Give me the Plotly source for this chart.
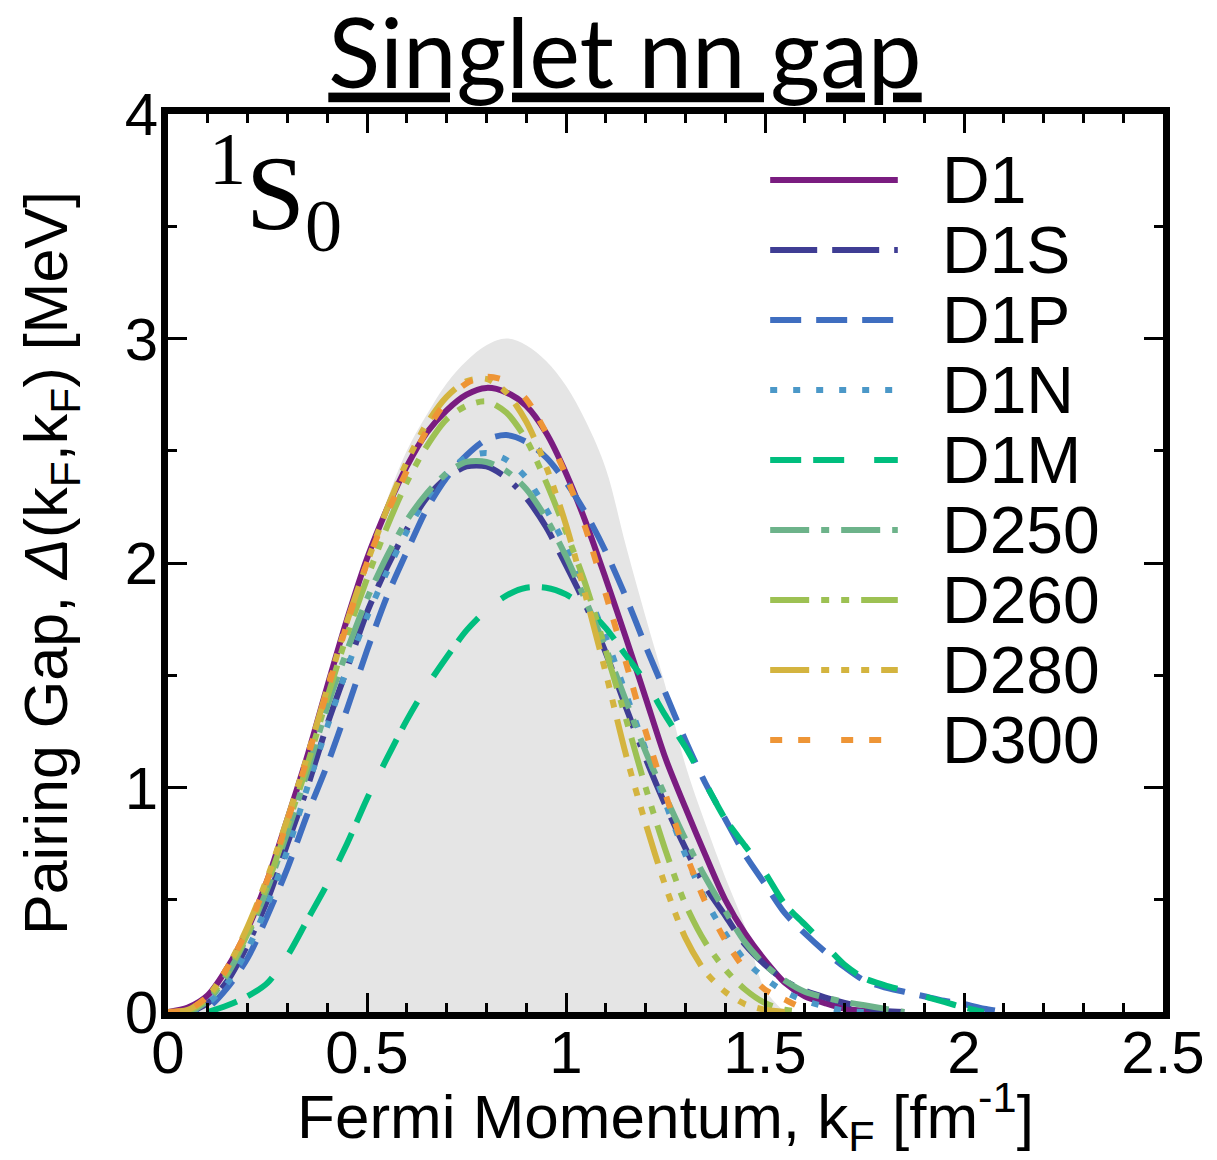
import plotly.graph_objects as go

# ---------------- data ----------------
kF = [0.00, 0.05, 0.10, 0.15, 0.20, 0.25, 0.30, 0.35, 0.40, 0.45,
      0.50, 0.55, 0.60, 0.65, 0.70, 0.75, 0.80, 0.85, 0.90, 0.95,
      1.00, 1.05, 1.10, 1.15, 1.20, 1.25, 1.30, 1.35, 1.40, 1.45,
      1.50, 1.55, 1.60, 1.65, 1.70, 1.75, 1.80, 1.85, 1.90, 1.95,
      2.00, 2.05, 2.10]

band_upper = [0, 0.02, 0.08, 0.20, 0.37, 0.58, 0.84, 1.12, 1.42, 1.73,
              2.02, 2.28, 2.50, 2.66, 2.80, 2.90, 2.97, 3.00, 2.97, 2.90,
              2.79, 2.63, 2.42, 2.08, 1.76, 1.45, 1.10, 0.84, 0.60, 0.38,
              0.10, 0, None, None, None, None, None, None, None, None,
              None, None, None]

D1 = [0, 0.02, 0.075, 0.20, 0.37, 0.59, 0.86, 1.14, 1.45, 1.75,
      2.02, 2.24, 2.43, 2.58, 2.68, 2.75, 2.78, 2.76, 2.70, 2.58,
      2.40, 2.18, 1.93, 1.67, 1.40, 1.13, 0.91, 0.70, 0.50, 0.35,
      0.23, 0.13, 0.07, 0.04, 0.015, 0.005, 0, None, None, None,
      None, None, None]

D1S = [0, 0, 0.04, 0.14, 0.30, 0.50, 0.75, 1.00, 1.28, 1.53,
       1.78, 1.98, 2.15, 2.29, 2.38, 2.43, 2.43, 2.38, 2.29, 2.16,
       1.99, 1.81, 1.60, 1.36, 1.13, 0.92, 0.73, 0.56, 0.43, 0.30,
       0.21, 0.14, 0.095, 0.065, 0.04, 0.02, 0.005, 0, None, None,
       None, None, None]

D1P = [0, 0, 0.02, 0.11, 0.24, 0.43, 0.64, 0.88, 1.10, 1.35,
       1.61, 1.85, 2.05, 2.24, 2.38, 2.48, 2.55, 2.57, 2.54, 2.47,
       2.36, 2.22, 2.05, 1.85, 1.63, 1.42, 1.21, 1.02, 0.86, 0.70,
       0.57, 0.44, 0.35, 0.27, 0.20, 0.14, 0.11, 0.09, 0.07, 0.05,
       0.035, 0.015, 0]

D1N = [0, 0, 0.04, 0.13, 0.28, 0.48, 0.72, 1.00, 1.27, 1.53,
       1.76, 1.96, 2.14, 2.29, 2.40, 2.47, 2.49, 2.46, 2.38, 2.24,
       2.07, 1.88, 1.67, 1.42, 1.17, 0.93, 0.70, 0.50, 0.35, 0.23,
       0.15, 0.09, 0.05, 0.025, 0.005, 0, None, None, None, None,
       None, None, None]

D1M = [None, None, 0, 0.03, 0.07, 0.13, 0.25, 0.41, 0.57, 0.75,
       0.95, 1.13, 1.30, 1.45, 1.58, 1.70, 1.79, 1.855, 1.89, 1.89,
       1.86, 1.80, 1.71, 1.59, 1.47, 1.32, 1.18, 1.02, 0.86, 0.74,
       0.62, 0.48, 0.39, 0.30, 0.21, 0.15, 0.12, 0.095, 0.07, 0.045,
       0.02, 0, None]

D250 = [0, 0, 0.05, 0.17, 0.34, 0.55, 0.80, 1.07, 1.36, 1.61,
        1.84, 2.03, 2.19, 2.31, 2.40, 2.45, 2.45, 2.41, 2.33, 2.20,
        2.03, 1.83, 1.62, 1.39, 1.16, 0.96, 0.77, 0.60, 0.45, 0.31,
        0.21, 0.14, 0.09, 0.065, 0.045, 0.03, 0.015, 0, None, None,
        None, None, None]

D260 = [0, 0.005, 0.06, 0.18, 0.35, 0.57, 0.83, 1.10, 1.40, 1.68,
        1.93, 2.16, 2.36, 2.52, 2.64, 2.70, 2.72, 2.67, 2.55, 2.36,
        2.14, 1.90, 1.61, 1.31, 1.00, 0.72, 0.48, 0.31, 0.19, 0.10,
        0.04, 0.01, 0, None, None, None, None, None, None, None,
        None, None, None]

D280 = [0, 0.01, 0.07, 0.20, 0.38, 0.60, 0.86, 1.14, 1.44, 1.74,
        2.00, 2.24, 2.45, 2.62, 2.74, 2.81, 2.82, 2.76, 2.63, 2.43,
        2.17, 1.85, 1.51, 1.15, 0.84, 0.56, 0.33, 0.18, 0.09, 0.035,
        0.01, 0, None, None, None, None, None, None, None, None,
        None, None, None]

D300 = [0, 0.01, 0.07, 0.20, 0.37, 0.59, 0.85, 1.13, 1.43, 1.73,
        2.00, 2.22, 2.41, 2.59, 2.72, 2.80, 2.83, 2.81, 2.73, 2.58,
        2.39, 2.15, 1.86, 1.56, 1.25, 0.97, 0.71, 0.49, 0.32, 0.19,
        0.10, 0.055, 0.015, 0, None, None, None, None, None, None,
        None, None, None]

series_names = ["D1", "D1S", "D1P", "D1N", "D1M", "D250", "D260", "D280", "D300"]
series_values = [D1, D1S, D1P, D1N, D1M, D250, D260, D280, D300]

x_ticks = [0, 0.5, 1, 1.5, 2, 2.5]
x_ticklabels = ["0", "0.5", "1", "1.5", "2", "2.5"]
y_ticks = [0, 1, 2, 3, 4]
y_ticklabels = ["0", "1", "2", "3", "4"]

# ---------------- styles ----------------
colors = ["#7a1c80", "#3f3d94", "#3f6ec0", "#4b98c8", "#00be7e",
          "#6db38a", "#9dc153", "#d4b43f", "#ee9536"]
dashes = ["solid",
          "47px,15px,47px,15px,5px,15px",
          "31px,15px",
          "7px,16px",
          "31px,12px,31px,30px",
          "39px,12px,8px,12px",
          "39px,12px,8px,12px,8px,12px",
          "39px,12px,8px,12px,8px,12px,8px,12px",
          "12px,16px,12px,31px"]
LW = 6

W, H = 1217, 1160
L, R, T, B = 168, 51, 114, 148
plot_w, plot_h = W - L - R, H - T - B

fig = go.Figure()

fig.add_trace(go.Scatter(x=kF, y=band_upper, mode="lines", fill="tozeroy",
                         fillcolor="#e5e5e5", line=dict(width=0, color="#e5e5e5",
                                                         shape="spline"),
                         showlegend=False, hoverinfo="skip"))

for name, vals, c, d in zip(series_names, series_values, colors, dashes):
    fig.add_trace(go.Scatter(x=kF, y=vals, mode="lines", name=name,
                             line=dict(color=c, width=LW, dash=d, shape="spline",
                                       smoothing=0.8),
                             showlegend=False))

# ---------------- manual legend (long line samples like the reference) ----------------
def px_to_paper_x(px):
    return (px - L) / plot_w

def px_to_paper_y(py):
    return (H - B - py) / plot_h

shapes = []
annotations = []
for i, (name, c, d) in enumerate(zip(series_names, colors, dashes)):
    yrow = 180 + 70 * i
    shapes.append(dict(type="line", xref="paper", yref="paper",
                       x0=px_to_paper_x(772), x1=px_to_paper_x(900),
                       y0=px_to_paper_y(yrow), y1=px_to_paper_y(yrow),
                       line=dict(color=c, width=LW, dash=d)))
    annotations.append(dict(xref="paper", yref="paper",
                            x=px_to_paper_x(942), y=px_to_paper_y(yrow),
                            xanchor="left", yanchor="middle", showarrow=False,
                            text=name,
                            font=dict(family="Liberation Sans, Arial", size=66,
                                      color="black")))

annotations.append(dict(xref="paper", yref="paper",
                        x=px_to_paper_x(207), y=px_to_paper_y(116),
                        xanchor="left", yanchor="top", showarrow=False,
                        text="<sup>1</sup>S<sub>0</sub>",
                        font=dict(family="Liberation Serif, Times New Roman",
                                  size=106, color="black")))

axis_common = dict(showline=True, linecolor="black", linewidth=7, mirror="ticks",
                   ticks="inside", tickcolor="black", tickwidth=3, ticklen=19,
                   showgrid=False, zeroline=False,
                   tickfont=dict(family="Liberation Sans, Arial", size=60,
                                 color="black"))

fig.update_layout(
    width=W, height=H,
    margin=dict(l=L, r=R, t=T, b=B),
    paper_bgcolor="white", plot_bgcolor="white",
    showlegend=False,
    title=dict(text="<u>Singlet nn gap</u>", xref="container", yref="container",
               x=625 / W, xanchor="center", y=1 - 54 / H, yanchor="middle",
               font=dict(family="Lato, Gill Sans, sans-serif", size=96,
                         color="black")),
    xaxis=dict(range=[0, 2.5], tickvals=x_ticks, ticktext=x_ticklabels,
               ticklabelstandoff=-18,
               minor=dict(dtick=0.1, tick0=0, ticks="inside", ticklen=9,
                          tickwidth=3, tickcolor="black"),
               title=dict(text="Fermi Momentum, k<sub>F</sub> [fm<sup>-1</sup>]",
                          font=dict(family="Liberation Sans, Arial", size=62,
                                    color="black"), standoff=10),
               **axis_common),
    yaxis=dict(range=[0, 4], tickvals=y_ticks, ticktext=y_ticklabels,
               ticklabelstandoff=-9,
               minor=dict(dtick=0.5, tick0=0, ticks="inside", ticklen=9,
                          tickwidth=3, tickcolor="black"),
               title=dict(text="Pairing Gap, <i>Δ</i>(k<sub>F</sub>,k<sub>F</sub>) [MeV]",
                          font=dict(family="Liberation Sans, Arial", size=61,
                                    color="black"), standoff=40),
               **axis_common),
    shapes=shapes,
    annotations=annotations,
)

fig.write_html("out.html", config={"displayModeBar": False},
               post_script="document.body.style.margin='0';")
